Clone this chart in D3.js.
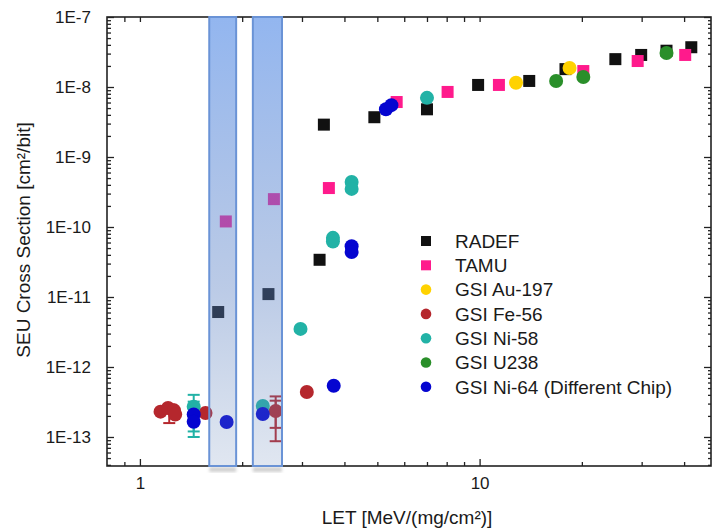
<!DOCTYPE html>
<html lang="en">
<head>
  <meta charset="UTF-8">
  <title>SEU Cross Section vs LET</title>
  <style>
    html,
    body {
      margin: 0;
      background: #fff;
    }

    svg {
      display: block;
      font-family: 'Liberation Sans', Arial, sans-serif;
    }
  </style>
  <script src="https://cdn.jsdelivr.net/npm/d3@7/dist/d3.min.js"></script>
</head>
<body>
  <script>
    // values (LET in MeV/(mg/cm2), cross section in cm2/bit)
    const radefLet = [1.70, 2.39, 3.38, 3.48, 4.9, 7.0, 9.9, 14.0, 17.9, 25.1, 29.9, 35.5, 42.0]
    const radefSig = [6.1e-12, 1.1e-11, 3.4e-11, 2.9e-9, 3.7e-9, 4.8e-9, 1.07e-8, 1.22e-8, 1.8e-8, 2.5e-8, 2.87e-8, 3.3e-8, 3.7e-8]

    const tamuLet = [1.79, 2.48, 3.6, 5.7, 8.05, 11.4, 20.2, 29.2, 40.3]
    const tamuSig = [1.2e-10, 2.5e-10, 3.6e-10, 6.1e-9, 8.5e-9, 1.07e-8, 1.69e-8, 2.35e-8, 2.87e-8]

    const auLet = [12.8, 18.4]
    const auSig = [1.15e-8, 1.87e-8]

    const feLet = [1.15, 1.21, 1.26, 1.27, 1.56, 2.51, 3.1]
    const feSig = [2.3e-13, 2.6e-13, 2.4e-13, 2.1e-13, 2.2e-13, 2.35e-13, 4.4e-13]

    const ni58Let = [1.44, 2.3, 2.97, 3.7, 3.7, 4.2, 4.2, 7.0]
    const ni58Sig = [2.7e-13, 2.77e-13, 3.5e-12, 7.0e-11, 6.2e-11, 4.4e-10, 3.5e-10, 7.0e-9]

    const u238Let = [16.8, 20.2, 35.5]
    const u238Sig = [1.22e-8, 1.39e-8, 3.06e-8]

    const ni64Let = [1.44, 1.44, 1.8, 2.3, 3.72, 4.2, 4.2, 5.3, 5.5]
    const ni64Sig = [2.1e-13, 1.65e-13, 1.64e-13, 2.13e-13, 5.4e-13, 5.3e-11, 4.4e-11, 4.8e-9, 5.5e-9]

    // error bars (low / high)
    const feErrLet = [1.22, 2.51, 2.51]
    const feErrLo = [1.58e-13, 8.7e-14, 1.35e-13]
    const feErrHi = [2.9e-13, 3.8e-13, 3.3e-13]
    const ni58ErrLet = [1.44, 1.44]
    const ni58ErrLo = [1.0e-13, 1.2e-13]
    const ni58ErrHi = [4.0e-13, 3.2e-13]

    // highlighted LET windows
    const bandStart = [1.6, 2.15]
    const bandEnd = [1.92, 2.62]

    // axis ticks
    const xMajor = [1, 10]
    const xMinor = [0.9, 2, 3, 4, 5, 6, 7, 8, 9, 20, 30, 40]
    const yMajor = [1e-13, 1e-12, 1e-11, 1e-10, 1e-9, 1e-8, 1e-7]

    const series = [
      { name: 'RADEF', shape: 'square', color: '#111111', let: radefLet, sig: radefSig },
      { name: 'TAMU', shape: 'square', color: '#ff1a8c', let: tamuLet, sig: tamuSig },
      { name: 'GSI Au-197', shape: 'circle', color: '#ffd200', let: auLet, sig: auSig },
      { name: 'GSI Fe-56', shape: 'circle', color: '#b5272d', let: feLet, sig: feSig },
      { name: 'GSI Ni-58', shape: 'circle', color: '#22b2a6', let: ni58Let, sig: ni58Sig },
      { name: 'GSI U238', shape: 'circle', color: '#2a8f2a', let: u238Let, sig: u238Sig },
      { name: 'GSI Ni-64 (Different Chip)', shape: 'circle', color: '#0505d0', let: ni64Let, sig: ni64Sig }
    ]
    const drawOrder = ['RADEF', 'TAMU', 'GSI Fe-56', 'GSI Ni-58', 'GSI Ni-64 (Different Chip)', 'GSI Au-197', 'GSI U238']

    const width = 712
    const height = 532
    const margin = { left: 107, right: 1, top: 17, bottom: 66 }

    const svg = d3.select('body').append('svg')
      .attr('width', width)
      .attr('height', height)

    const x = d3.scaleLog().domain([0.8, 48]).range([margin.left, width - margin.right])
    const y = d3.scaleLog().domain([3.85e-14, 1e-7]).range([height - margin.bottom, margin.top])

    const yMinor = []
    yMajor.slice(0, -1).forEach(d => { for (let k = 2; k < 10; k++) yMinor.push(d * k) })
    yMinor.push(9e-14, 8e-14, 7e-14, 6e-14, 5e-14, 4e-14)

    // axes: major and minor ticks all point inwards
    const x0 = x.range()[0], x1 = x.range()[1]
    const y0 = y.range()[0], y1 = y.range()[1]

    svg.append('g')
      .attr('transform', `translate(0,${y0})`)
      .call(d3.axisBottom(x).tickValues(xMajor).tickSizeInner(-7).tickSizeOuter(0).tickPadding(11).tickFormat(d3.format('d')))
    svg.append('g')
      .attr('transform', `translate(0,${y0})`)
      .call(d3.axisBottom(x).tickValues(xMinor).tickSizeInner(-4).tickSizeOuter(0).tickFormat(''))
    svg.append('g')
      .attr('transform', `translate(0,${y1})`)
      .call(d3.axisTop(x).tickValues(xMajor.concat(xMinor)).tickSizeInner(-5).tickSizeOuter(0).tickFormat(''))

    svg.append('g')
      .attr('transform', `translate(${x0},0)`)
      .call(d3.axisLeft(y).tickValues(yMajor).tickSizeInner(-7).tickSizeOuter(0).tickPadding(16)
        .tickFormat(d => '1E' + Math.round(Math.log10(d))))
    svg.append('g')
      .attr('transform', `translate(${x0},0)`)
      .call(d3.axisLeft(y).tickValues(yMinor).tickSizeInner(-4).tickSizeOuter(0).tickFormat(''))
    svg.append('g')
      .attr('transform', `translate(${x1},0)`)
      .call(d3.axisRight(y).tickValues(yMajor).tickSizeInner(-7).tickSizeOuter(0).tickFormat(''))
    svg.append('g')
      .attr('transform', `translate(${x1},0)`)
      .call(d3.axisRight(y).tickValues(yMinor).tickSizeInner(-3).tickSizeOuter(0).tickFormat(''))

    svg.selectAll('.domain').remove()
    svg.selectAll('.tick line').attr('stroke', '#222').attr('stroke-width', 1.3)
    svg.selectAll('.tick text').attr('fill', '#1a1a1a').attr('font-size', 17)

    // frame
    svg.append('rect')
      .attr('x', x0).attr('y', y1)
      .attr('width', x1 - x0).attr('height', y0 - y1)
      .attr('fill', 'none').attr('stroke', '#222').attr('stroke-width', 1.6)

    // error bars
    const errors = [
      { color: '#b5272d', let: feErrLet, lo: feErrLo, hi: feErrHi },
      { color: '#22b2a6', let: ni58ErrLet, lo: ni58ErrLo, hi: ni58ErrHi }
    ]
    const marks = svg.append('g')
    errors.forEach(e => {
      const g = marks.append('g').attr('stroke', e.color).attr('stroke-width', 2)
      e.let.forEach((l, i) => {
        const cx = x(l)
        g.append('line').attr('x1', cx).attr('x2', cx).attr('y1', y(e.lo[i])).attr('y2', y(e.hi[i]))
        g.append('line').attr('x1', cx - 6).attr('x2', cx + 6).attr('y1', y(e.lo[i])).attr('y2', y(e.lo[i]))
        g.append('line').attr('x1', cx - 6).attr('x2', cx + 6).attr('y1', y(e.hi[i])).attr('y2', y(e.hi[i]))
      })
    })

    // data points
    drawOrder.forEach(name => {
      const s = series.find(d => d.name === name)
      const pts = s.let.map((l, i) => [l, s.sig[i]])
      if (s.shape === 'square') {
        marks.selectAll(null).data(pts).enter().append('rect')
          .attr('x', d => x(d[0]) - 6)
          .attr('y', d => y(d[1]) - 6)
          .attr('width', 12).attr('height', 12)
          .attr('fill', s.color)
      } else {
        marks.selectAll(null).data(pts).enter().append('circle')
          .attr('cx', d => x(d[0]))
          .attr('cy', d => y(d[1]))
          .attr('r', 7)
          .attr('fill', s.color)
      }
    })

    // highlighted windows drawn over the points
    const defs = svg.append('defs')
    const grad = defs.append('linearGradient')
      .attr('id', 'bandFill')
      .attr('x1', 0).attr('y1', 0).attr('x2', 0).attr('y2', 1)
    grad.append('stop').attr('offset', '0%').attr('stop-color', '#5089e6').attr('stop-opacity', 0.62)
    grad.append('stop').attr('offset', '60%').attr('stop-color', '#5c82c5').attr('stop-opacity', 0.42)
    grad.append('stop').attr('offset', '100%').attr('stop-color', '#6585b8').attr('stop-opacity', 0.2)
    defs.append('filter').attr('id', 'soft')
      .append('feGaussianBlur').attr('stdDeviation', 1.5)

    const bands = bandStart.map((b, i) => [b, bandEnd[i]])
    svg.selectAll('.shadow').data(bands).enter().append('rect')
      .attr('class', 'shadow')
      .attr('x', d => x(d[0]))
      .attr('y', y0 + 1)
      .attr('width', d => x(d[1]) - x(d[0]))
      .attr('height', 5)
      .attr('fill', '#9a9a9a')
      .attr('opacity', 0.45)
      .attr('filter', 'url(#soft)')
    svg.selectAll('.band').data(bands).enter().append('rect')
      .attr('class', 'band')
      .attr('x', d => x(d[0]))
      .attr('y', y1)
      .attr('width', d => x(d[1]) - x(d[0]))
      .attr('height', y0 - y1)
      .attr('fill', 'url(#bandFill)')
      .attr('stroke', '#6a93d6')
      .attr('stroke-width', 2)

    // legend
    const legend = svg.append('g').attr('transform', 'translate(426,241)')
    const rows = legend.selectAll('g').data(series).enter().append('g')
      .attr('transform', (d, i) => `translate(0,${i * 24.3})`)
    rows.filter(d => d.shape === 'square').append('rect')
      .attr('x', -5).attr('y', -5).attr('width', 10).attr('height', 10)
      .attr('fill', d => d.color)
    rows.filter(d => d.shape === 'circle').append('circle')
      .attr('r', 5.3)
      .attr('fill', d => d.color)
    rows.append('text')
      .attr('x', 29)
      .attr('dy', '0.36em')
      .attr('font-size', 19)
      .attr('fill', '#1a1a1a')
      .text(d => d.name)

    // axis titles
    svg.append('text')
      .attr('x', 407).attr('y', 524)
      .attr('text-anchor', 'middle')
      .attr('font-size', 19)
      .attr('fill', '#1a1a1a')
      .text('LET [MeV/(mg/cm²)]')
    svg.append('text')
      .attr('transform', 'translate(30,240) rotate(-90)')
      .attr('text-anchor', 'middle')
      .attr('font-size', 19)
      .attr('fill', '#1a1a1a')
      .text('SEU Cross Section [cm²/bit]')
  </script>
</body>
</html>
